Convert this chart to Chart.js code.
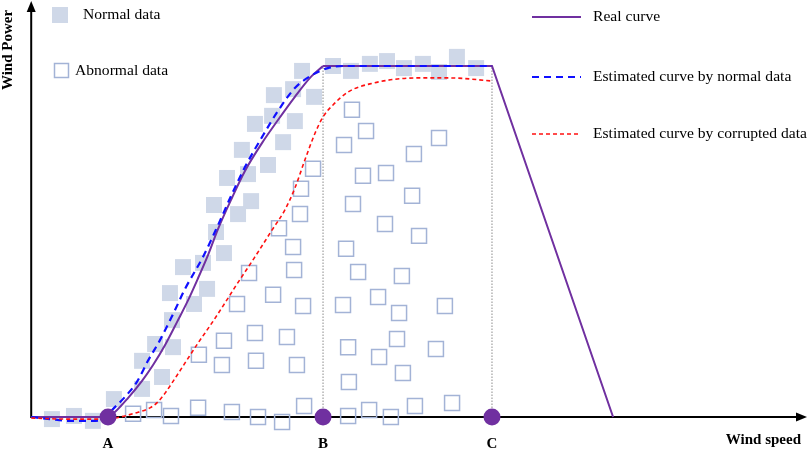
<!DOCTYPE html>
<html>
<head>
<meta charset="utf-8">
<script src="https://cdn.jsdelivr.net/npm/chart.js@4.4.1/dist/chart.umd.min.js"></script>
<style>
  html, body { margin: 0; padding: 0; background: #fff; }
  #wrap { position: relative; width: 809px; height: 449px; }
</style>
</head>
<body>
<div id="wrap"><canvas id="mycanvas"></canvas></div>
<script>
// wind speed (arbitrary units, origin = 0) / normalised power (rated = 1)
var normalData = [
  [10.58,0.986],[9.48,0.917],[10.23,0.934],[11.05,0.912],[8.74,0.835],[9.41,0.858],[10.30,0.843],
  [9.84,0.783],[8.23,0.761],[9.25,0.718],[8.47,0.692],[7.65,0.681],[8.59,0.615],[7.14,0.604],
  [8.08,0.578],[7.22,0.527],[7.53,0.467],[5.93,0.427],[6.71,0.439],[5.42,0.353],[6.87,0.365],
  [6.36,0.322],[5.50,0.276],[4.84,0.208],[5.54,0.199],[4.33,0.160],[5.11,0.114],[4.33,0.080],
  [3.23,0.051],[0.81,-0.006],[1.67,0.003],[2.41,-0.011],[11.79,1.000],[12.49,0.986],[13.23,1.006],
  [13.90,1.014],[14.56,0.994],[15.30,1.006],[15.93,0.983],[16.63,1.026],[17.38,0.994]
];
var abnormalData = [
  [3.98,0.009],[4.80,0.020],[5.46,0.003],[6.52,0.026],[7.84,0.014],[8.86,0.000],[9.80,-0.014],
  [10.66,0.031],[6.55,0.177],[7.45,0.148],[7.53,0.217],[8.74,0.239],[8.78,0.160],[9.99,0.228],
  [10.38,0.148],[8.04,0.322],[9.45,0.348],[10.62,0.316],[8.51,0.410],[10.23,0.484],[10.27,0.419],
  [9.68,0.538],[11.01,0.707],[10.54,0.650],[10.50,0.578],[12.53,0.875],[13.08,0.815],[12.22,0.775],
  [15.93,0.795],[14.95,0.749],[12.96,0.687],[13.86,0.695],[14.88,0.630],[12.57,0.607],[13.82,0.550],
  [15.15,0.516],[12.30,0.479],[12.77,0.413],[14.48,0.402],[12.18,0.319],[13.55,0.342],[14.37,0.296],
  [16.16,0.316],[12.38,0.199],[14.29,0.222],[13.59,0.171],[15.81,0.194],[14.52,0.125],[12.41,0.100],
  [14.99,0.031],[16.44,0.040],[12.38,0.003],[13.20,0.020],[14.05,0.000]
];
// rising part of the real curve (smooth), then plateau and cut-out (straight)
var realCurveRise = [
  [0,0],[3.0,0],[3.27,0.014],[3.78,0.054],[4.33,0.103],[4.76,0.148],[5.23,0.205],[5.70,0.271],
  [6.13,0.333],[6.52,0.396],[6.91,0.462],[7.30,0.536],[7.84,0.624],[8.35,0.701],[9.02,0.781],
  [9.64,0.846],[10.30,0.912],[10.89,0.966],[11.40,1.0]
];
var realCurveTop = [[11.40,1.0],[18.0,1.0],[22.73,0]];
var normalCurve = [
  [0,0],[0.73,-0.006],[1.52,-0.011],[2.41,-0.011],[2.88,-0.003],[3.16,0.020],[3.66,0.057],[4.13,0.100],
  [4.56,0.160],[5.03,0.219],[5.54,0.293],[6.01,0.365],[6.71,0.456],[7.30,0.547],[7.84,0.635],
  [8.35,0.712],[9.02,0.798],[9.64,0.872],[10.30,0.937],[10.97,0.974],[11.59,0.994],[12.26,1.0],[18.0,1.0]
];
var corruptedCurve = [
  [0,-0.003],[1.40,-0.006],[2.69,-0.006],[3.27,-0.003],[4.05,0.011],[4.64,0.026],[4.95,0.043],
  [5.23,0.068],[5.50,0.097],[6.01,0.154],[6.52,0.211],[7.06,0.268],[7.57,0.325],[7.96,0.370],
  [8.74,0.456],[9.41,0.533],[9.91,0.590],[10.30,0.652],[10.69,0.732],[11.09,0.809],[11.40,0.855],
  [11.79,0.889],[12.38,0.926],[13.23,0.949],[15.07,0.966],[16.36,0.966],[18.04,0.957]
];
var keyLabels = ['A', 'B', 'C'];
var keySpeeds = [3.0, 11.40, 18.0];
var ratedPower = 1.0;

function pts(arr) {
  return arr.map(function(p) { return { x: p[0], y: p[1] }; });
}

var purple = '#7030a0';
var serif = '"Liberation Serif", "Times New Roman", serif';

var decorPlugin = {
  id: 'decor',
  beforeDatasetsDraw: function(chart) {
    var ctx = chart.ctx, xs = chart.scales.x, ys = chart.scales.y;
    var x0 = xs.getPixelForValue(0), y0 = ys.getPixelForValue(0);
    ctx.save();
    ctx.strokeStyle = '#000';
    ctx.fillStyle = '#000';
    ctx.lineWidth = 2;
    // y axis
    ctx.beginPath();
    ctx.moveTo(x0, y0 + 1);
    ctx.lineTo(x0, 10);
    ctx.stroke();
    ctx.beginPath();
    ctx.moveTo(x0, 1);
    ctx.lineTo(x0 - 4.5, 12);
    ctx.lineTo(x0 + 4.5, 12);
    ctx.closePath();
    ctx.fill();
    // x axis
    ctx.beginPath();
    ctx.moveTo(x0, y0);
    ctx.lineTo(797, y0);
    ctx.stroke();
    ctx.beginPath();
    ctx.moveTo(807, y0);
    ctx.lineTo(796, y0 - 4.5);
    ctx.lineTo(796, y0 + 4.5);
    ctx.closePath();
    ctx.fill();
    ctx.restore();
  },
  afterDatasetsDraw: function(chart) {
    var ctx = chart.ctx, xs = chart.scales.x, ys = chart.scales.y;
    var y0 = ys.getPixelForValue(0);
    ctx.save();
    ctx.fillStyle = '#000';
    ctx.textBaseline = 'middle';
    ctx.font = 'bold 15px ' + serif;
    ctx.textAlign = 'center';
    keyLabels.forEach(function(l, i) {
      ctx.fillText(l, xs.getPixelForValue(keySpeeds[i]), y0 + 27);
    });
    ctx.textAlign = 'right';
    ctx.fillText('Wind speed', 801, 440);
    ctx.save();
    ctx.translate(8, 50);
    ctx.rotate(-Math.PI / 2);
    ctx.textAlign = 'center';
    ctx.fillText('Wind Power', 0, 0);
    ctx.restore();

    // legend
    ctx.font = '15.6px ' + serif;
    ctx.textAlign = 'left';
    ctx.fillStyle = '#cfd8e8';
    ctx.fillRect(52, 7, 16, 16);
    ctx.fillStyle = '#000';
    ctx.fillText('Normal data', 83, 15);
    ctx.strokeStyle = '#a3b3d6';
    ctx.lineWidth = 1.5;
    ctx.strokeRect(54.5, 63.5, 14, 14);
    ctx.fillText('Abnormal data', 75, 71);

    var rows = [
      { y: 17, color: purple, dash: [], w: 2, text: 'Real curve' },
      { y: 77, color: '#1010ff', dash: [7, 5], w: 2, text: 'Estimated curve by normal data' },
      { y: 134, color: '#ff1010', dash: [4, 3], w: 1.5, text: 'Estimated curve by corrupted data' }
    ];
    rows.forEach(function(r) {
      ctx.strokeStyle = r.color;
      ctx.lineWidth = r.w;
      ctx.setLineDash(r.dash);
      ctx.beginPath();
      ctx.moveTo(532, r.y);
      ctx.lineTo(581, r.y);
      ctx.stroke();
      ctx.setLineDash([]);
      ctx.fillStyle = '#000';
      ctx.fillText(r.text, 593, r.y);
    });
    ctx.restore();
  }
};

var datasets = [
  {
    label: 'Key points',
    data: keySpeeds.map(function(s) { return { x: s, y: 0 }; }),
    pointStyle: 'circle',
    pointRadius: 8.5,
    backgroundColor: purple,
    borderColor: purple,
    borderWidth: 0,
    showLine: false,
    order: 1
  },
  {
    label: 'Estimated curve by corrupted data',
    data: pts(corruptedCurve),
    showLine: true,
    borderColor: '#ff1010',
    borderWidth: 1.6,
    borderDash: [4, 3],
    pointRadius: 0,
    cubicInterpolationMode: 'monotone',
    order: 2
  },
  {
    label: 'Estimated curve by normal data',
    data: pts(normalCurve),
    showLine: true,
    borderColor: '#1010ff',
    borderWidth: 2.2,
    borderDash: [7, 5],
    pointRadius: 0,
    cubicInterpolationMode: 'monotone',
    order: 3
  },
  {
    label: 'Real curve',
    data: pts(realCurveRise),
    showLine: true,
    borderColor: purple,
    borderWidth: 2,
    pointRadius: 0,
    cubicInterpolationMode: 'monotone',
    order: 4
  },
  {
    label: 'Real curve (rated / cut-out)',
    data: pts(realCurveTop),
    showLine: true,
    borderColor: purple,
    borderWidth: 2,
    pointRadius: 0,
    tension: 0,
    order: 4
  },
  {
    label: 'B line',
    data: [{ x: keySpeeds[1], y: 0 }, { x: keySpeeds[1], y: ratedPower }],
    showLine: true,
    borderColor: '#8a8a8a',
    borderWidth: 1,
    borderDash: [1.5, 1.5],
    pointRadius: 0,
    order: 5
  },
  {
    label: 'C line',
    data: [{ x: keySpeeds[2], y: 0 }, { x: keySpeeds[2], y: ratedPower }],
    showLine: true,
    borderColor: '#8a8a8a',
    borderWidth: 1,
    borderDash: [1.5, 1.5],
    pointRadius: 0,
    order: 5
  },
  {
    label: 'Abnormal data',
    data: pts(abnormalData),
    pointStyle: 'rect',
    pointRadius: 10.6,
    backgroundColor: 'rgba(255,255,255,0)',
    borderColor: '#a3b3d6',
    borderWidth: 1.5,
    showLine: false,
    order: 6
  },
  {
    label: 'Normal data',
    data: pts(normalData),
    pointStyle: 'rect',
    pointRadius: 11.3,
    backgroundColor: '#cfd8e8',
    borderColor: '#cfd8e8',
    borderWidth: 0,
    showLine: false,
    order: 7
  }
];

var ctx = document.getElementById('mycanvas');
new Chart(ctx, {
  type: 'scatter',
  data: { datasets: datasets },
  options: {
    responsive: true,
    maintainAspectRatio: false,
    animation: false,
    layout: { padding: 0, autoPadding: false },
    plugins: { legend: { display: false }, tooltip: { enabled: false } },
    scales: {
      x: { type: 'linear', display: false, min: -1.219, max: 30.383 },
      y: { type: 'linear', display: false, min: -0.0912, max: 1.188 }
    }
  },
  plugins: [decorPlugin]
});
</script>
</body>
</html>
